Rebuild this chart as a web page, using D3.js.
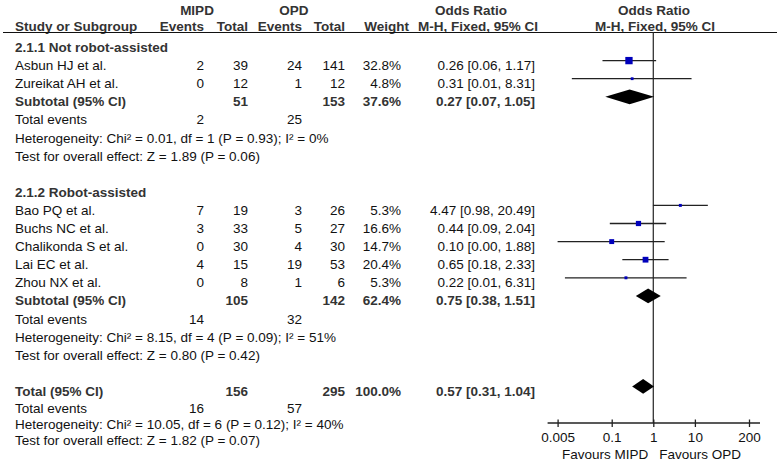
<!DOCTYPE html>
<html>
<head>
<meta charset="utf-8">
<script src="https://cdn.jsdelivr.net/npm/d3@7/dist/d3.min.js"></script>
<style>
  html, body { margin: 0; padding: 0; background: #fff; }
  svg { display: block; font-family: "Liberation Sans", Arial, sans-serif; }
</style>
</head>
<body>
<svg id="chart" width="777" height="462"></svg>
<script>
// ---------- data ----------
const studies = ["Asbun HJ et al.", "Zureikat AH et al.", "Bao PQ et al.", "Buchs NC et al.", "Chalikonda S et al.", "Lai EC et al.", "Zhou NX et al."];
const studyGroup = [0, 0, 1, 1, 1, 1, 1];
const mipdEvents = [2, 0, 7, 3, 0, 4, 0];
const mipdTotal = [39, 12, 19, 33, 30, 15, 8];
const opdEvents = [24, 1, 3, 5, 4, 19, 1];
const opdTotal = [141, 12, 26, 27, 30, 53, 6];
const weights = [32.8, 4.8, 5.3, 16.6, 14.7, 20.4, 5.3];
const orValue = [0.26, 0.31, 4.47, 0.44, 0.10, 0.65, 0.22];
const ciLow = [0.06, 0.011, 0.98, 0.09, 0.005, 0.18, 0.0075];
const ciHigh = [1.17, 8.31, 20.49, 2.04, 1.88, 2.33, 6.31];
const ciText = ["0.26 [0.06, 1.17]", "0.31 [0.01, 8.31]", "4.47 [0.98, 20.49]", "0.44 [0.09, 2.04]", "0.10 [0.00, 1.88]", "0.65 [0.18, 2.33]", "0.22 [0.01, 6.31]"];

const groupNames = ["2.1.1 Not robot-assisted", "2.1.2 Robot-assisted"];
const groupMipdTotal = [51, 105];
const groupOpdTotal = [153, 142];
const groupWeight = ["37.6%", "62.4%"];
const groupOr = [0.27, 0.75];
const groupLow = [0.07, 0.38];
const groupHigh = [1.05, 1.51];
const groupCiText = ["0.27 [0.07, 1.05]", "0.75 [0.38, 1.51]"];
const groupMipdEvents = [2, 14];
const groupOpdEvents = [25, 32];
const groupHetero = ["Heterogeneity: Chi² = 0.01, df = 1 (P = 0.93); I² = 0%", "Heterogeneity: Chi² = 8.15, df = 4 (P = 0.09); I² = 51%"];
const groupTest = ["Test for overall effect: Z = 1.89 (P = 0.06)", "Test for overall effect: Z = 0.80 (P = 0.42)"];

const totalMipd = 156, totalOpd = 295, totalWeight = "100.0%";
const totalOr = 0.57, totalLow = 0.31, totalHigh = 1.04, totalCiText = "0.57 [0.31, 1.04]";
const totalMipdEvents = 16, totalOpdEvents = 57;
const totalHetero = "Heterogeneity: Chi² = 10.05, df = 6 (P = 0.12); I² = 40%";
const totalTest = "Test for overall effect: Z = 1.82 (P = 0.07)";

const tickValues = [0.005, 0.1, 1, 10, 200];
const tickLabels = ["0.005", "0.1", "1", "10", "200"];
const favourLeft = "Favours MIPD", favourRight = "Favours OPD";

// ---------- layout ----------
const svg = d3.select("#chart");
const FS = 13.5;
const boldCol = "#333";
const textCol = "#111";
const markerCol = "#0000bb";
const lineCol = "#222";

const col = { name: 15, mE: 204, mT: 248, oE: 302, oT: 345, w: 401, or: 535 };

const x = d3.scaleLog().domain([0.005, 200]).range([557.6, 749.0]);
const row0 = 60.6, pitch = 18.1;
const rowY = r => row0 + r * pitch;
const base = r => rowY(r) + 9.5;

function txt(xp, yp, s, opt = {}) {
  svg.append("text")
    .attr("x", xp).attr("y", yp)
    .attr("text-anchor", opt.anchor || "start")
    .attr("font-size", FS)
    .attr("font-weight", opt.bold ? "bold" : "normal")
    .attr("fill", opt.bold ? boldCol : textCol)
    .text(s);
}

// headers
txt(197, 15, "MIPD", { anchor: "middle", bold: true });
txt(294, 15, "OPD", { anchor: "middle", bold: true });
txt(471, 15, "Odds Ratio", { anchor: "middle", bold: true });
txt(654, 15, "Odds Ratio", { anchor: "middle", bold: true });
txt(col.name, 31, "Study or Subgroup", { bold: true });
txt(col.mE, 31, "Events", { anchor: "end", bold: true });
txt(col.mT, 31, "Total", { anchor: "end", bold: true });
txt(col.oE, 31, "Events", { anchor: "end", bold: true });
txt(col.oT, 31, "Total", { anchor: "end", bold: true });
txt(409, 31, "Weight", { anchor: "end", bold: true });
txt(478, 31, "M-H, Fixed, 95% CI", { anchor: "middle", bold: true });
txt(655, 31, "M-H, Fixed, 95% CI", { anchor: "middle", bold: true });

svg.append("line").attr("x1", 3).attr("x2", 777).attr("y1", 32.5).attr("y2", 32.5)
  .attr("stroke", "#111").attr("stroke-width", 1.2);

// null line
const axisY = 423;
svg.append("line").attr("x1", x(1)).attr("x2", x(1)).attr("y1", 32.5).attr("y2", axisY)
  .attr("stroke", "#333").attr("stroke-width", 1.3);

function diamond(r, lo, mid, hi) {
  const y = rowY(r), h = 7.4;
  svg.append("path")
    .attr("d", `M${x(lo)},${y}L${x(mid)},${y - h}L${x(hi)},${y}L${x(mid)},${y + h}Z`)
    .attr("fill", "#000");
}

let r = -1;
groupNames.forEach((g, gi) => {
  txt(col.name, base(r), g, { bold: true });
  r++;
  studies.forEach((s, i) => {
    if (studyGroup[i] !== gi) return;
    txt(col.name, base(r), s);
    txt(col.mE, base(r), mipdEvents[i], { anchor: "end" });
    txt(col.mT, base(r), mipdTotal[i], { anchor: "end" });
    txt(col.oE, base(r), opdEvents[i], { anchor: "end" });
    txt(col.oT, base(r), opdTotal[i], { anchor: "end" });
    txt(col.w, base(r), weights[i].toFixed(1) + "%", { anchor: "end" });
    txt(col.or, base(r), ciText[i], { anchor: "end" });
    const y = rowY(r);
    svg.append("line").attr("x1", x(ciLow[i])).attr("x2", x(ciHigh[i]))
      .attr("y1", y).attr("y2", y).attr("stroke", lineCol).attr("stroke-width", 1.3);
    const sz = Math.max(2.6, 1.28 * Math.sqrt(weights[i]));
    svg.append("rect").attr("x", x(orValue[i]) - sz / 2).attr("y", y - sz / 2)
      .attr("width", sz).attr("height", sz).attr("fill", markerCol);
    r++;
  });
  txt(col.name, base(r), "Subtotal (95% CI)", { bold: true });
  txt(col.mT, base(r), groupMipdTotal[gi], { anchor: "end", bold: true });
  txt(col.oT, base(r), groupOpdTotal[gi], { anchor: "end", bold: true });
  txt(col.w, base(r), groupWeight[gi], { anchor: "end", bold: true });
  txt(col.or, base(r), groupCiText[gi], { anchor: "end", bold: true });
  diamond(r, groupLow[gi], groupOr[gi], groupHigh[gi]);
  r++;
  txt(col.name, base(r), "Total events");
  txt(col.mE, base(r), groupMipdEvents[gi], { anchor: "end" });
  txt(col.oE, base(r), groupOpdEvents[gi], { anchor: "end" });
  r++;
  txt(col.name, base(r), groupHetero[gi]);
  r++;
  txt(col.name, base(r), groupTest[gi]);
  r += 2;
});

// overall
txt(col.name, base(r), "Total (95% CI)", { bold: true });
txt(col.mT, base(r), totalMipd, { anchor: "end", bold: true });
txt(col.oT, base(r), totalOpd, { anchor: "end", bold: true });
txt(col.w, base(r), totalWeight, { anchor: "end", bold: true });
txt(col.or, base(r), totalCiText, { anchor: "end", bold: true });
diamond(r, totalLow, totalOr, totalHigh);
r++;
const footPitch = 16;
const fb = base(r) - 1;
txt(col.name, fb, "Total events");
txt(col.mE, fb, totalMipdEvents, { anchor: "end" });
txt(col.oE, fb, totalOpdEvents, { anchor: "end" });
txt(col.name, fb + footPitch, totalHetero);
txt(col.name, fb + 2 * footPitch, totalTest);

// axis
const axis = d3.axisBottom(x).tickValues(tickValues)
  .tickFormat((d, i) => tickLabels[i]).tickSizeOuter(0).tickSizeInner(4);
const ag = svg.append("g").attr("transform", `translate(0,${axisY})`).call(axis);
ag.select(".domain").remove();
ag.selectAll(".tick line").attr("y1", -3.5).attr("y2", 4).attr("stroke", "#222").attr("stroke-width", 1.3);
ag.selectAll(".tick text").attr("y", 19).attr("dy", 0).attr("font-size", FS)
  .attr("font-family", "Liberation Sans, Arial, sans-serif").attr("fill", textCol);
svg.append("line").attr("x1", x(0.005) - 10).attr("x2", x(200) + 11)
  .attr("y1", axisY).attr("y2", axisY).attr("stroke", "#222").attr("stroke-width", 1.3);

txt(x(1) - 5, axisY + 36, favourLeft, { anchor: "end" });
txt(x(1) + 6, axisY + 36, favourRight);
</script>
</body>
</html>
